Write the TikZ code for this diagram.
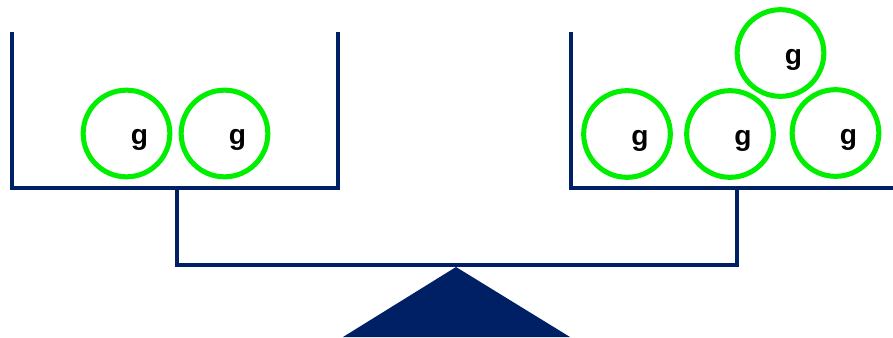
\documentclass[tikz,border=0pt]{standalone}
\usepackage{fontspec}
\setmainfont{Liberation Sans}
\definecolor{azul_balanza}{RGB}{0,32,102}
\definecolor{verde_pesa}{RGB}{0,238,0}
\begin{document}
\begin{tikzpicture}[x=0.03cm, y=-0.03cm]
  % Definir estilos
  \tikzset{
    brazo/.style={azul_balanza, line width=3.8pt},
    pesa/.style={circle, draw=verde_pesa, line width=4.3pt, minimum size=2.6cm, inner sep=0pt},
    etiqueta/.style={font=\fontsize{24}{24}\selectfont\bfseries, xshift=0.39cm, yshift=-0.2cm}
  }

  % Marco de la imagen
  \useasboundingbox (0,0) rectangle (893,338);

  % Platillo izquierdo
  \draw[brazo] (12,32) -- (12,188) -- (338,188) -- (338,32);

  % Platillo derecho
  \draw[brazo] (571,32) -- (571,188) -- (893,188);

  % Barra de la balanza
  \draw[brazo] (177,188) -- (177,265) -- (737,265) -- (737,188);

  % Soporte triangular
  \fill[azul_balanza] (456,267) -- (570,337) -- (343,337) -- cycle;

  % Pesas izquierdas
  \node[pesa, label={[etiqueta]center:g}] (izq1) at (126.5,133.5) {};
  \node[pesa, label={[etiqueta]center:g}] (izq2) at (224.5,133.5) {};

  % Pesas derechas
  \node[pesa, label={[etiqueta]center:g}] (der1) at (627,134) {};
  \node[pesa, label={[etiqueta]center:g}] (der2) at (730,134) {};
  \node[pesa, label={[etiqueta]center:g}] (der3) at (835.5,133) {};
  \node[pesa, label={[etiqueta]center:g}] (der4) at (780.5,53) {};
\end{tikzpicture}
\end{document}
